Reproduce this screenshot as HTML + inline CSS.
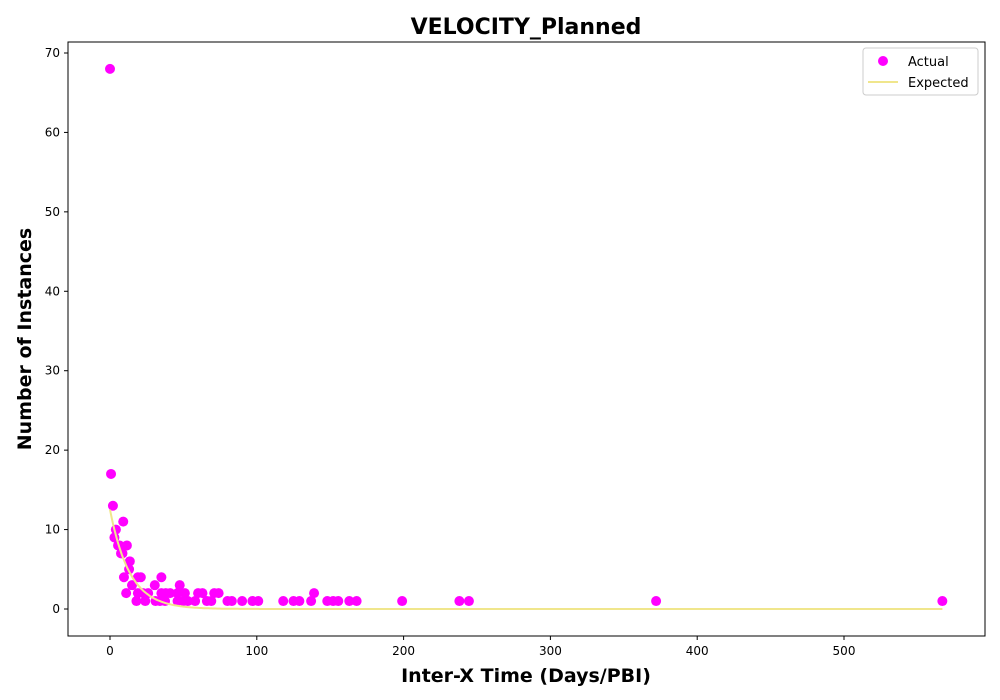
<!DOCTYPE html>
<html><head><meta charset="utf-8"><style>
body{margin:0;background:#fff;}
svg{display:block;font-family:"DejaVu Sans","Liberation Sans",sans-serif;}
</style></head><body>
<svg id="chart" width="1000" height="700">
<rect width="1000" height="700" fill="#fff"/>
<text x="526" y="34" text-anchor="middle" font-size="22" font-weight="bold">VELOCITY_Planned</text>
<g id="grid"></g>
<g id="marks"></g>
<rect x="68" y="42" width="917" height="594" fill="none" stroke="#000" stroke-width="1"/>
<text x="526" y="682" text-anchor="middle" font-size="19" font-weight="bold">Inter-X Time (Days/PBI)</text>
<text transform="translate(31,339) rotate(-90)" text-anchor="middle" font-size="19" font-weight="bold">Number of Instances</text>
<g>
<rect x="863" y="48" width="115" height="47" rx="3" fill="#fff" stroke="#ccc"/>
<circle cx="883" cy="61" r="5" fill="#ff00ff"/>
<text x="908" y="66" font-size="13">Actual</text>
<line x1="868" y1="82" x2="898" y2="82" stroke="#f0e68c" stroke-width="2"/>
<text x="908" y="87" font-size="13">Expected</text>
</g>
</svg>
<script>
const xTicks=[0,100,200,300,400,500];
const yTicks=[0,10,20,30,40,50,60,70];
const actualX=[0,0.7,2,9,4,3,11.5,5.5,6.5,7.5,8.5,13.5,13,9.5,19,21,35,15,30.5,47.5,
11,19,22.5,26,35,38,41,46,51,60,63,71,74,139,
18,24,31,34,37.5,46,50,53,58,66,69,80,83,90,97,101,118,125,129,137,148,152,155.5,163,168,199,238,244.5,372,567];
const actualY=[68,17,13,11,10,9,8,8,8,7,7,6,5,4,4,4,4,3,3,3,
2,2,2,2,2,2,2,2,2,2,2,2,2,2,
1,1,1,1,1,1,1,1,1,1,1,1,1,1,1,1,1,1,1,1,1,1,1,1,1,1,1,1,1,1];
const expA=[12.5];
const expTau=[13.4];
const expRange=[0,567];
const NS='http://www.w3.org/2000/svg';
const sx=v=>110+v*1.468;
const sy=v=>609-v*7.943;
const grid=document.getElementById('grid'),marks=document.getElementById('marks');
function mk(t,a,p){const e=document.createElementNS(NS,t);for(const k in a)e.setAttribute(k,a[k]);p.appendChild(e);return e;}
xTicks.forEach(t=>{
 const l=mk('line',{x1:sx(t),x2:sx(t),y1:636,y2:640,stroke:'#000'},grid);
 
 
 const tx=mk('text',{x:sx(t),y:655,'text-anchor':'middle','font-size':12},grid);tx.textContent=t;
 
 
});
yTicks.forEach(t=>{
 const l=mk('line',{x1:64,x2:68,y1:sy(t),y2:sy(t),stroke:'#000'},grid);
 
 
 const tx=mk('text',{x:60,y:sy(t)+4,'text-anchor':'end','font-size':12},grid);tx.textContent=t;
 
 
});
actualX.forEach((x,i)=>{
 const c=mk('circle',{cx:sx(x),cy:sy(actualY[i]),r:5,fill:'#ff00ff'},marks);
 
 
});
let d='';
for(let x=expRange[0];x<=expRange[1];x+=1){const y=expA[0]*Math.exp(-x/expTau[0]);d+=(x?'L':'M')+sx(x).toFixed(1)+','+sy(y).toFixed(1);}
const p=mk('path',{d:d,fill:'none',stroke:'#f0e68c','stroke-width':2},marks);


</script>
</body></html>
